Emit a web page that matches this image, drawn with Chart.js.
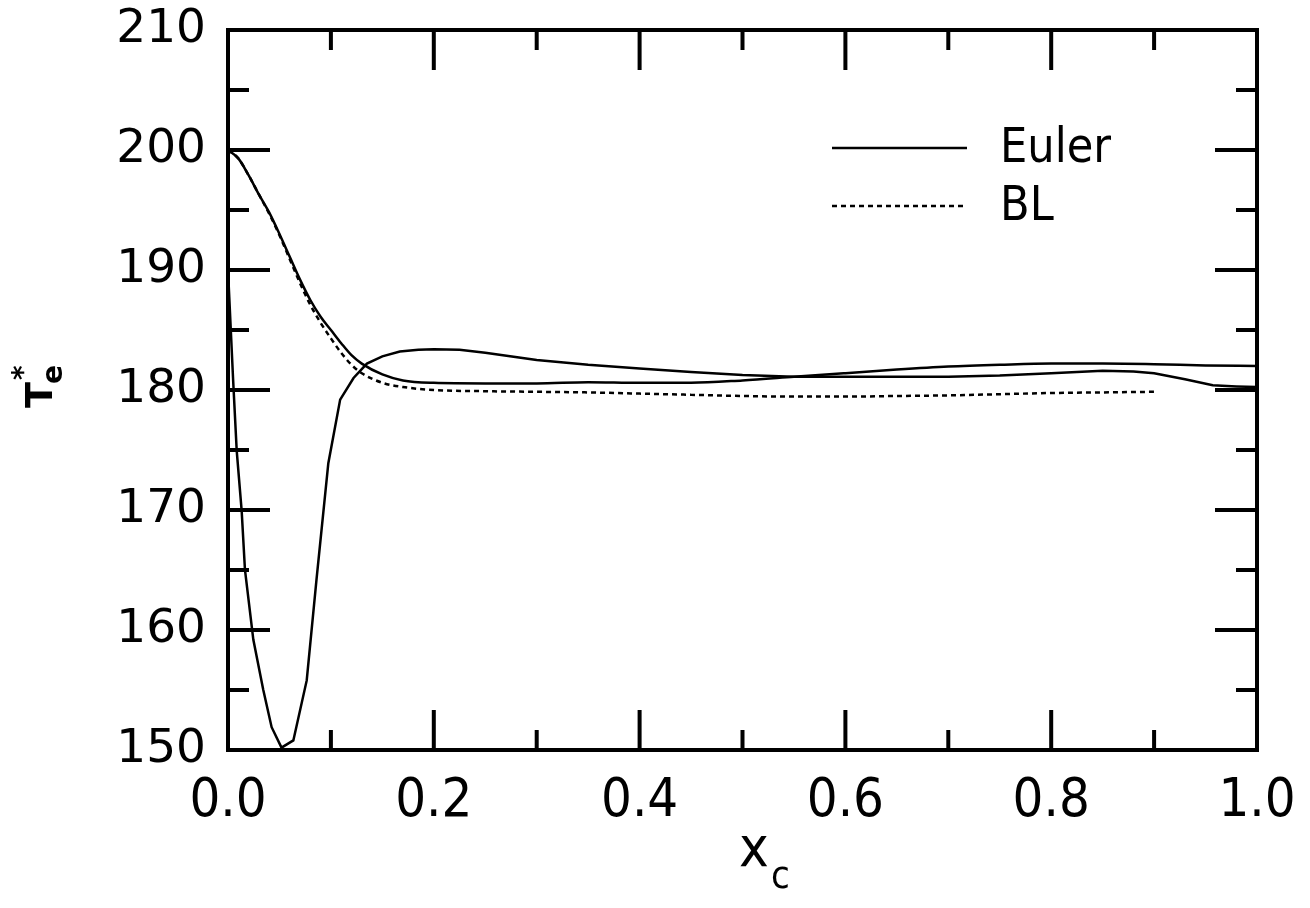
<!DOCTYPE html>
<html>
<head>
<meta charset="utf-8">
<script src="https://cdn.jsdelivr.net/npm/chart.js@4/dist/chart.umd.min.js"></script>
<style>
  html, body { margin: 0; padding: 0; background: #fff; }
  #wrap { width: 1310px; height: 908px; position: relative; }
</style>
</head>
<body>
<div id="wrap"><canvas id="chart"></canvas></div>
<script>
// Euler solution starting at 200
const eulerAX = [0, 0.01, 0.02, 0.03, 0.04, 0.05, 0.06, 0.07, 0.08, 0.09, 0.10, 0.11, 0.12, 0.13, 0.15, 0.17, 0.20, 0.25, 0.30, 0.35, 0.40, 0.45, 0.50, 0.55, 0.60, 0.65, 0.70, 0.75, 0.80, 0.85, 0.90, 0.95, 1.00]
const eulerAY = [200, 199.3, 197.9, 196.3, 194.8, 193.0, 191.1, 189.2, 187.5, 186.1, 185.0, 183.9, 182.9, 182.2, 181.3, 180.8, 180.6, 180.55, 180.55, 180.65, 180.6, 180.6, 180.8, 181.1, 181.4, 181.7, 181.95, 182.1, 182.2, 182.2, 182.15, 182.05, 182.0]

// Euler solution starting at 190 (dip to 150)
const eulerBX = [0, 0.005, 0.0085, 0.0133, 0.0165, 0.0246, 0.0343, 0.0424, 0.052, 0.0635, 0.0765, 0.086, 0.0975, 0.109, 0.122, 0.135, 0.15, 0.167, 0.185, 0.20, 0.225, 0.25, 0.30, 0.35, 0.40, 0.45, 0.50, 0.55, 0.60, 0.65, 0.70, 0.75, 0.80, 0.85, 0.88, 0.90, 0.93, 0.957, 0.98, 1.00]
const eulerBY = [190, 180.8, 174.9, 169.9, 165.0, 159.2, 155.0, 151.9, 150.2, 150.8, 155.8, 164.2, 173.9, 179.2, 181.0, 182.2, 182.8, 183.2, 183.35, 183.4, 183.35, 183.1, 182.5, 182.1, 181.8, 181.5, 181.25, 181.1, 181.1, 181.1, 181.1, 181.2, 181.4, 181.6, 181.55, 181.4, 180.9, 180.4, 180.3, 180.25]

// boundary layer
const blX = [0, 0.01, 0.02, 0.03, 0.04, 0.05, 0.06, 0.07, 0.08, 0.09, 0.10, 0.11, 0.12, 0.13, 0.15, 0.17, 0.20, 0.25, 0.30, 0.35, 0.40, 0.45, 0.50, 0.55, 0.60, 0.65, 0.70, 0.75, 0.80, 0.85, 0.90]
const blY = [200, 199.3, 197.9, 196.3, 194.7, 192.9, 190.9, 188.9, 187.1, 185.6, 184.3, 183.1, 182.1, 181.4, 180.6, 180.25, 180.0, 179.9, 179.85, 179.8, 179.7, 179.6, 179.5, 179.45, 179.45, 179.5, 179.55, 179.65, 179.75, 179.8, 179.85]

const xTicks = [0, 0.2, 0.4, 0.6, 0.8, 1.0]
const yTicks = [150, 160, 170, 180, 190, 200, 210]

const wide = "'DejaVu Sans', sans-serif"
const narrow = "'DejaVu Sans Condensed', 'DejaVu Sans', sans-serif"

function pts(xs, ys) {
  return xs.map((x, i) => ({ x: x, y: ys[i] }))
}

// frame, inward ticks, legend and axis titles
const decor = {
  id: "decor",
  afterDatasetsDraw(chart) {
    const { ctx, chartArea: a, scales } = chart
    const xs = scales.x, ys = scales.y
    ctx.save()
    ctx.strokeStyle = "#000"
    ctx.lineWidth = 4
    ctx.lineCap = "butt"
    ctx.strokeRect(a.left, a.top, a.right - a.left, a.bottom - a.top)

    ctx.beginPath()
    for (let v = 150; v <= 210; v += 5) {
      const y = ys.getPixelForValue(v)
      const len = v % 10 === 0 ? 42 : 21
      ctx.moveTo(a.left, y); ctx.lineTo(a.left + len, y)
      ctx.moveTo(a.right, y); ctx.lineTo(a.right - len, y)
    }
    for (let i = 1; i < 10; i++) {
      const x = xs.getPixelForValue(i / 10)
      const len = i % 2 === 0 ? 40 : 20
      ctx.moveTo(x, a.bottom); ctx.lineTo(x, a.bottom - len)
      ctx.moveTo(x, a.top); ctx.lineTo(x, a.top + len)
    }
    ctx.stroke()

    // legend
    ctx.fillStyle = "#000"
    ctx.font = "48px " + narrow
    ctx.textBaseline = "middle"
    const rows = [[0, 148], [2, 206]]
    rows.forEach(([di, y]) => {
      const ds = chart.data.datasets[di]
      ctx.beginPath()
      ctx.lineWidth = 2.5
      ctx.setLineDash(ds.borderDash || [])
      ctx.moveTo(832, y); ctx.lineTo(967, y)
      ctx.stroke()
      ctx.setLineDash([])
      ctx.fillText(ds.label, 1000, y + 2)
    })

    // x title: x_c
    ctx.textBaseline = "alphabetic"
    ctx.font = "56px " + narrow
    ctx.fillText("x", 739, 866)
    ctx.font = "38px " + narrow
    ctx.fillText("c", 771, 888)

    // y title: T*_e, rotated
    ctx.translate(52, 408)
    ctx.rotate(-Math.PI / 2)
    ctx.font = "bold 38px " + wide
    ctx.fillText("T", 0, 0)
    ctx.font = "bold 28px " + wide
    ctx.fillText("e", 24, 10)
    ctx.fillText("*", 28, -20)
    ctx.restore()
  }
}

new Chart(document.getElementById("chart"), {
  type: "scatter",
  data: {
    datasets: [
      {
        label: "Euler",
        data: pts(eulerAX, eulerAY),
        showLine: true,
        borderColor: "#000",
        borderWidth: 2.5,
        pointRadius: 0,
        cubicInterpolationMode: "monotone",
      },
      {
        label: "Euler",
        data: pts(eulerBX, eulerBY),
        showLine: true,
        borderColor: "#000",
        borderWidth: 2.5,
        pointRadius: 0,
        tension: 0,
      },
      {
        label: "BL",
        data: pts(blX, blY),
        showLine: true,
        borderColor: "#000",
        borderWidth: 2.5,
        borderDash: [5, 4],
        pointRadius: 0,
        cubicInterpolationMode: "monotone",
      },
    ],
  },
  options: {
    responsive: true,
    maintainAspectRatio: false,
    animation: false,
    layout: { padding: { left: 0, top: 30, right: 53, bottom: 0 } },
    plugins: {
      legend: { display: false },
      tooltip: { enabled: false },
    },
    scales: {
      x: {
        type: "linear",
        min: 0,
        max: 1,
        afterFit: (s) => {
          s.height = 158
          s.paddingLeft = 0
          s.paddingRight = 0
        },
        afterBuildTicks: (s) => { s.ticks = xTicks.map((v) => ({ value: v })) },
        grid: { display: false, drawTicks: false },
        border: { display: false },
        ticks: {
          color: "#000",
          padding: 20,
          font: { family: narrow, size: 54 },
          callback: (v) => v.toFixed(1),
        },
      },
      y: {
        min: 150,
        max: 210,
        afterFit: (s) => {
          s.width = 228
          s.paddingTop = 0
          s.paddingBottom = 0
        },
        afterBuildTicks: (s) => { s.ticks = yTicks.map((v) => ({ value: v })) },
        grid: { display: false, drawTicks: false },
        border: { display: false },
        ticks: {
          color: "#000",
          padding: 22,
          font: { family: wide, size: 47 },
        },
      },
    },
  },
  plugins: [decor],
})
</script>
</body>
</html>
